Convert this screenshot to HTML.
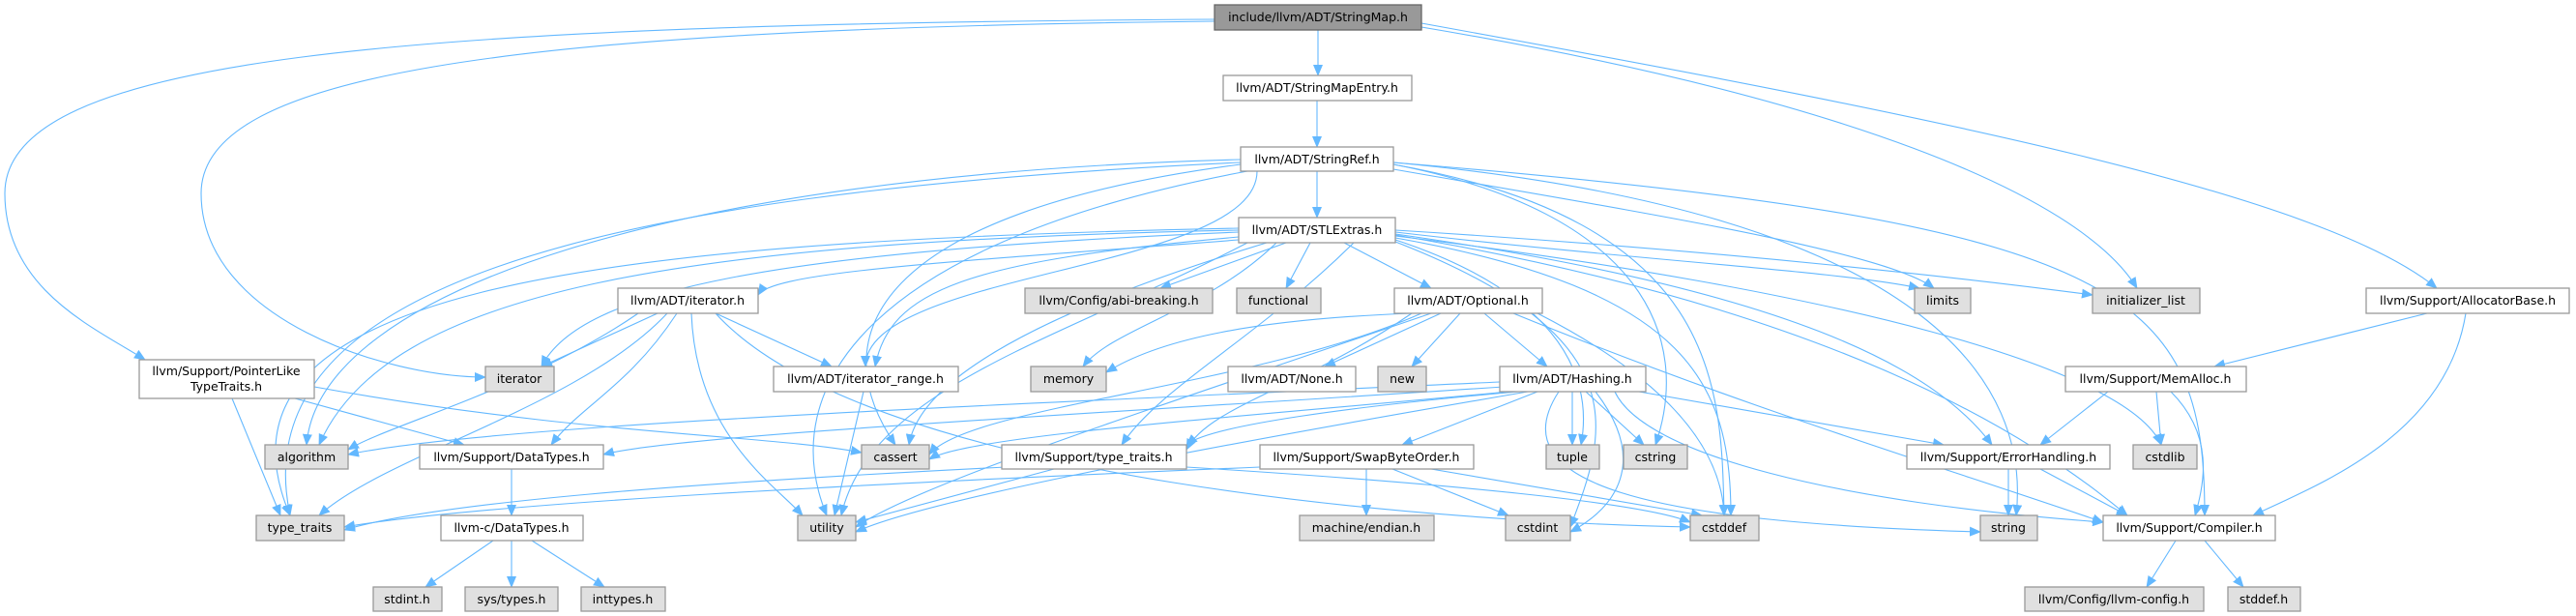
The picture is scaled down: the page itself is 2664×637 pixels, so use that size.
<!DOCTYPE html>
<html><head><meta charset="utf-8"><style>
html,body{margin:0;padding:0;background:#fff;}
svg{display:block;}
text{font-family:"DejaVu Sans","Liberation Sans",sans-serif;font-size:12.5px;fill:#000;text-anchor:middle;}
.w{fill:#fff;stroke:#999;stroke-width:1.3;}
.g{fill:#e0e0e0;stroke:#999;stroke-width:1.3;}
.r{fill:#999;stroke:#666;stroke-width:1.3;}
path.e{fill:none;stroke:#63b8ff;stroke-width:1.1;marker-end:url(#ah);}
</style></head><body>
<svg width="2664" height="637" viewBox="0 0 2664 637" xmlns="http://www.w3.org/2000/svg">
<defs><marker id="ah" markerUnits="userSpaceOnUse" markerWidth="12" markerHeight="10" refX="11" refY="5" orient="auto"><path d="M0,0 L12,5 L0,10 z" fill="#63b8ff"/></marker></defs>
<g>
<path class="e" d="M1363 31 L1363 78"/>
<path class="e" d="M1256 20 C400 25,5 60,5 200 C5 300,100 340,150 372"/>
<path class="e" d="M1256 22 C500 30,208 80,208 200 C208 330,400 390,502 390"/>
<path class="e" d="M1470 28 C1900 100,2150 200,2210 298"/>
<path class="e" d="M1470 24 C2000 120,2400 200,2520 298"/>
<path class="e" d="M1362 104 L1362 152"/>
<path class="e" d="M1362 177 L1362 225"/>
<path class="e" d="M1300 177 C1300 280,895 280,895 379"/>
<path class="e" d="M1283 165 C700 180,330 300,317 460"/>
<path class="e" d="M1283 168 C600 200,250 300,300 533"/>
<path class="e" d="M1290 177 C900 250,800 400,855 533"/>
<path class="e" d="M1283 170 C900 220,850 350,926 460"/>
<path class="e" d="M1441 175 C1700 220,1950 260,2000 298"/>
<path class="e" d="M1441 170 C1700 220,1750 350,1712 460"/>
<path class="e" d="M1441 170 C1780 230,1780 400,1783 533"/>
<path class="e" d="M1441 168 C2000 220,2100 400,2085 533"/>
<path class="e" d="M1441 168 C2200 230,2280 300,2280 533"/>
<path class="e" d="M1281 248 C1000 270,800 280,784 305"/>
<path class="e" d="M1330 251 L1200 298"/>
<path class="e" d="M1355 251 L1330 298"/>
<path class="e" d="M1390 251 L1480 298"/>
<path class="e" d="M1443 240 C1700 270,1900 280,1985 298"/>
<path class="e" d="M1443 238 C1800 260,2050 290,2164 305"/>
<path class="e" d="M1281 240 C800 260,600 300,560 379"/>
<path class="e" d="M1281 245 C1000 270,920 300,905 379"/>
<path class="e" d="M1281 238 C700 250,400 300,330 460"/>
<path class="e" d="M1281 236 C600 250,200 300,300 533"/>
<path class="e" d="M1290 251 C1100 350,900 400,870 533"/>
<path class="e" d="M1310 251 C1050 330,950 400,940 460"/>
<path class="e" d="M1320 251 C1250 320,1150 340,1120 379"/>
<path class="e" d="M1443 248 C1600 300,1650 380,1635 460"/>
<path class="e" d="M1443 246 C1750 300,1790 400,1790 533"/>
<path class="e" d="M1443 250 C1700 350,1660 450,1624 545"/>
<path class="e" d="M1443 244 C1900 300,2200 380,2235 460"/>
<path class="e" d="M1443 242 C1850 300,2000 380,2060 460"/>
<path class="e" d="M1443 243 C1900 320,2100 450,2200 533"/>
<path class="e" d="M1400 251 C1300 350,1200 400,1160 460"/>
<path class="e" d="M680 324 L560 379"/>
<path class="e" d="M740 324 L860 379"/>
<path class="e" d="M660 324 C550 400,400 440,360 465"/>
<path class="e" d="M690 324 C600 420,400 470,330 533"/>
<path class="e" d="M715 324 C720 450,800 500,830 533"/>
<path class="e" d="M740 324 C900 500,1500 540,1748 545"/>
<path class="e" d="M700 324 C650 400,600 420,570 460"/>
<path class="e" d="M240 412 L290 533"/>
<path class="e" d="M305 412 L480 460"/>
<path class="e" d="M325 400 C600 450,800 450,891 468"/>
<path class="e" d="M893 405 L863 533"/>
<path class="e" d="M1460 324 C1300 330,1200 350,1144 385"/>
<path class="e" d="M1490 324 L1370 379"/>
<path class="e" d="M1510 324 L1460 379"/>
<path class="e" d="M1535 324 L1600 379"/>
<path class="e" d="M1470 324 C1300 400,1000 420,961 470"/>
<path class="e" d="M1480 324 C1200 420,950 500,885 545"/>
<path class="e" d="M1460 324 C1350 400,1250 420,1227 465"/>
<path class="e" d="M1565 324 C1800 420,2000 480,2175 540"/>
<path class="e" d="M1590 324 C1700 380,1780 450,1783 533"/>
<path class="e" d="M1551 395 C1000 420,500 440,360 470"/>
<path class="e" d="M1555 400 C1100 430,700 450,624 470"/>
<path class="e" d="M1560 405 C1300 430,1000 450,961 475"/>
<path class="e" d="M1570 405 C1400 420,1250 440,1227 460"/>
<path class="e" d="M1590 405 L1450 460"/>
<path class="e" d="M1626 405 L1626 460"/>
<path class="e" d="M1640 405 L1700 460"/>
<path class="e" d="M1695 405 L2010 460"/>
<path class="e" d="M1612 405 C1550 500,1700 540,2048 550"/>
<path class="e" d="M1670 405 C1700 470,1900 520,2175 540"/>
<path class="e" d="M1580 405 C1200 470,950 520,885 550"/>
<path class="e" d="M1650 405 C1700 470,1680 520,1624 550"/>
<path class="e" d="M1040 483 C700 500,450 520,356 548"/>
<path class="e" d="M1090 485 L885 540"/>
<path class="e" d="M1227 483 C1500 500,1700 520,1748 540"/>
<path class="e" d="M1413 485 L1413 533"/>
<path class="e" d="M1440 485 L1560 533"/>
<path class="e" d="M1480 485 L1760 533"/>
<path class="e" d="M1303 483 C900 500,500 520,356 545"/>
<path class="e" d="M2510 324 L2290 379"/>
<path class="e" d="M2550 324 C2530 450,2400 500,2330 533"/>
<path class="e" d="M2180 405 L2110 460"/>
<path class="e" d="M2230 405 L2235 460"/>
<path class="e" d="M2245 405 C2290 450,2280 500,2270 533"/>
<path class="e" d="M2077 485 L2077 533"/>
<path class="e" d="M2110 485 L2200 533"/>
<path class="e" d="M529 485 L529 533"/>
<path class="e" d="M510 559 L440 607"/>
<path class="e" d="M529 559 L529 607"/>
<path class="e" d="M550 559 L625 607"/>
<path class="e" d="M2250 559 L2220 607"/>
<path class="e" d="M2280 559 L2320 607"/>
</g>
<g>
<rect class="r" x="1256" y="5" width="214" height="26"/><text x="1363" y="22">include/llvm/ADT/StringMap.h</text>
<rect class="w" x="1265" y="78" width="195" height="26"/><text x="1362" y="95">llvm/ADT/StringMapEntry.h</text>
<rect class="w" x="1283" y="152" width="158" height="25"/><text x="1362" y="169">llvm/ADT/StringRef.h</text>
<rect class="w" x="1281" y="225" width="162" height="26"/><text x="1362" y="242">llvm/ADT/STLExtras.h</text>

<rect class="w" x="639" y="298" width="145" height="26"/><text x="711" y="315">llvm/ADT/iterator.h</text>
<rect class="g" x="1060" y="298" width="194" height="26"/><text x="1157" y="315">llvm/Config/abi-breaking.h</text>
<rect class="g" x="1279" y="298" width="87" height="26"/><text x="1322" y="315">functional</text>
<rect class="w" x="1442" y="298" width="153" height="26"/><text x="1518" y="315">llvm/ADT/Optional.h</text>
<rect class="g" x="1980" y="298" width="58" height="26"/><text x="2009" y="315">limits</text>
<rect class="g" x="2164" y="298" width="111" height="26"/><text x="2219" y="315">initializer_list</text>
<rect class="w" x="2447" y="298" width="210" height="26"/><text x="2552" y="315">llvm/Support/AllocatorBase.h</text>

<rect class="w" x="144" y="372" width="181" height="40"/><text x="234" y="388">llvm/Support/PointerLike</text><text x="234" y="404">TypeTraits.h</text>
<rect class="g" x="502" y="379" width="71" height="26"/><text x="537" y="396">iterator</text>
<rect class="w" x="800" y="379" width="191" height="26"/><text x="895" y="396">llvm/ADT/iterator_range.h</text>
<rect class="g" x="1066" y="379" width="78" height="26"/><text x="1105" y="396">memory</text>
<rect class="w" x="1270" y="379" width="132" height="26"/><text x="1336" y="396">llvm/ADT/None.h</text>
<rect class="g" x="1425" y="379" width="50" height="26"/><text x="1450" y="396">new</text>
<rect class="w" x="1551" y="379" width="151" height="26"/><text x="1626" y="396">llvm/ADT/Hashing.h</text>
<rect class="w" x="2136" y="379" width="187" height="26"/><text x="2229" y="396">llvm/Support/MemAlloc.h</text>

<rect class="g" x="274" y="460" width="86" height="25"/><text x="317" y="477">algorithm</text>
<rect class="w" x="434" y="460" width="190" height="25"/><text x="529" y="477">llvm/Support/DataTypes.h</text>
<rect class="g" x="891" y="460" width="70" height="25"/><text x="926" y="477">cassert</text>
<rect class="w" x="1036" y="460" width="191" height="25"/><text x="1131" y="477">llvm/Support/type_traits.h</text>
<rect class="w" x="1303" y="460" width="221" height="25"/><text x="1413" y="477">llvm/Support/SwapByteOrder.h</text>
<rect class="g" x="1599" y="460" width="55" height="25"/><text x="1626" y="477">tuple</text>
<rect class="g" x="1679" y="460" width="66" height="25"/><text x="1712" y="477">cstring</text>
<rect class="w" x="1972" y="460" width="210" height="25"/><text x="2077" y="477">llvm/Support/ErrorHandling.h</text>
<rect class="g" x="2206" y="460" width="66" height="25"/><text x="2239" y="477">cstdlib</text>

<rect class="g" x="265" y="533" width="91" height="26"/><text x="310" y="550">type_traits</text>
<rect class="w" x="456" y="533" width="147" height="26"/><text x="529" y="550">llvm-c/DataTypes.h</text>
<rect class="g" x="825" y="533" width="60" height="26"/><text x="855" y="550">utility</text>
<rect class="g" x="1344" y="533" width="139" height="26"/><text x="1413" y="550">machine/endian.h</text>
<rect class="g" x="1557" y="533" width="67" height="26"/><text x="1590" y="550">cstdint</text>
<rect class="g" x="1748" y="533" width="71" height="26"/><text x="1783" y="550">cstddef</text>
<rect class="g" x="2048" y="533" width="59" height="26"/><text x="2077" y="550">string</text>
<rect class="w" x="2175" y="533" width="178" height="26"/><text x="2264" y="550">llvm/Support/Compiler.h</text>

<rect class="g" x="386" y="607" width="71" height="25"/><text x="421" y="624">stdint.h</text>
<rect class="g" x="481" y="607" width="96" height="25"/><text x="529" y="624">sys/types.h</text>
<rect class="g" x="601" y="607" width="87" height="25"/><text x="644" y="624">inttypes.h</text>
<rect class="g" x="2094" y="607" width="185" height="25"/><text x="2186" y="624">llvm/Config/llvm-config.h</text>
<rect class="g" x="2304" y="607" width="75" height="25"/><text x="2341" y="624">stddef.h</text>
</g>
</svg>
</body></html>
